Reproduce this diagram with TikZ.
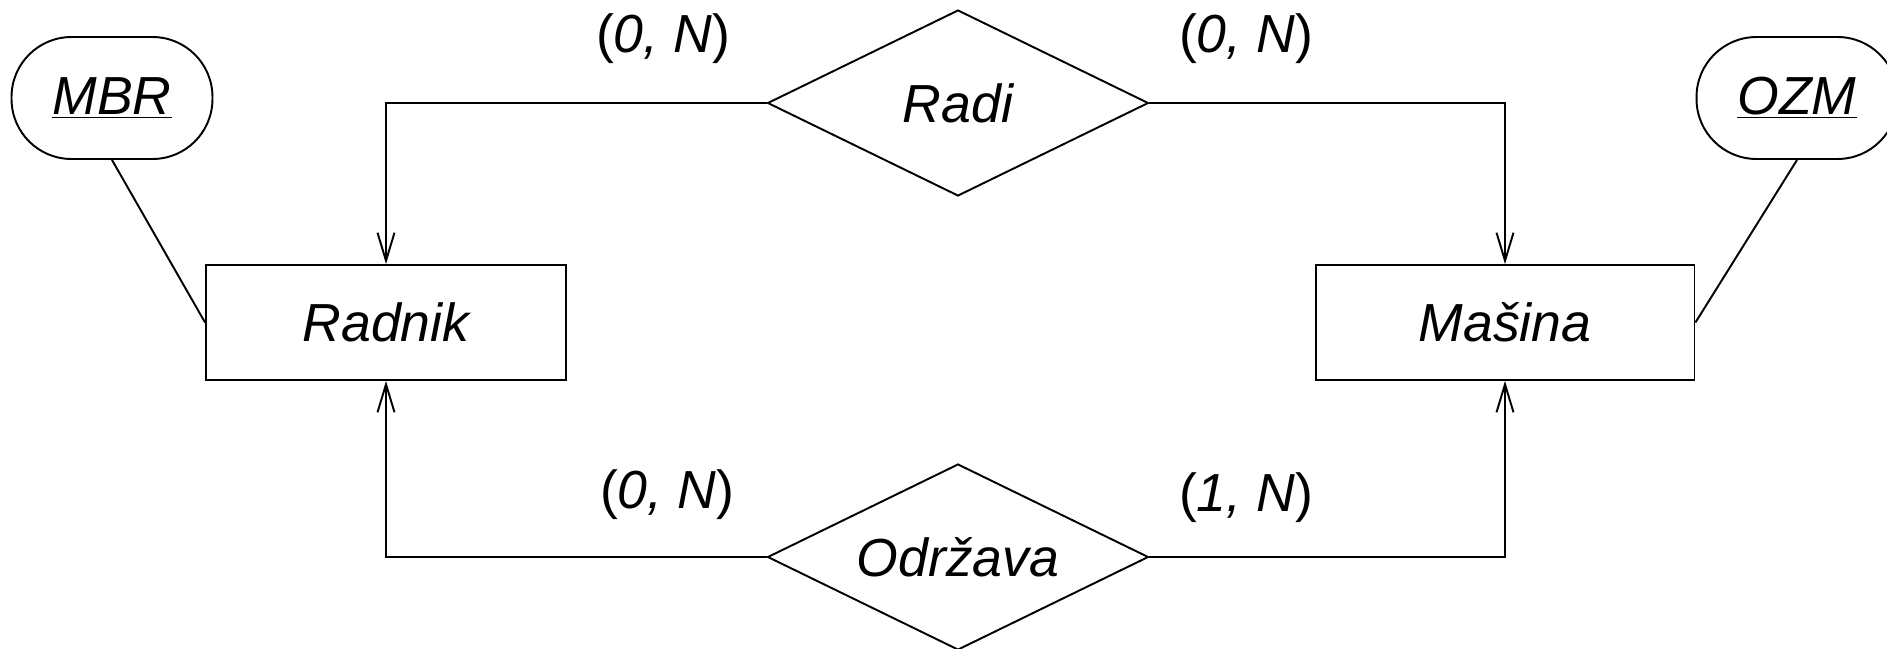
\documentclass[tikz,border=0pt]{standalone}
\usepackage{fontspec}
\setmainfont{Liberation Sans}
\usetikzlibrary{shapes.geometric,arrows.meta}
\tikzset{er font/.style={font=\fontsize{30.5}{36}\selectfont\itshape}}
\tikzset{entity box/.style={draw, rectangle, line width=1.1pt, minimum height=2.3cm, er font}}
\tikzset{attr box/.style={draw, rectangle, rounded corners=1.2cm, line width=1.1pt, minimum width=4.02cm, minimum height=2.44cm, er font}}
\tikzset{rel box/.style={draw, diamond, line width=1.1pt, inner sep=0pt, aspect=2.05, minimum width=7.62cm, minimum height=3.72cm, er font}}
\tikzset{card label/.style={font=\fontsize{30.5}{36}\selectfont}}
\tikzset{arr line/.style={line width=1.1pt, -{Straight Barb[length=5.6mm,width=3.4mm]}}}
\begin{document}
\begin{tikzpicture}[x=0.02cm, y=-0.02cm]
    \useasboundingbox (0,0) rectangle (1887,649);
    \node [entity box, minimum width=7.2cm] (radnik) at (386,322.5) {Radnik};
    \node [entity box, minimum width=7.58cm] (masina) at (1505,322.5) {Mašina};
    \node [attr box] (mbr) at (112,98) {\underline{MBR}};
    \node [attr box] (ozm) at (1797,98) {\underline{OZM}};
    \node [rel box] (radi) at (958,103) {Radi};
    \node [rel box] (odrzava) at (958,557) {Održava};
    \draw [arr line] (radi.west) -| (radnik.north);
    \draw [arr line] (radi.east) -| (masina.north);
    \draw [arr line] (odrzava.west) -| (radnik.south);
    \draw [arr line] (odrzava.east) -| (masina.south);
    \draw [line width=1.1pt] (mbr.south) -- (radnik.west);
    \draw [line width=1.1pt] (ozm.south) -- (masina.east);
    \node [card label] (c1) at (663,39) {(\textit{0, N})};
    \node [card label] (c2) at (1246,39) {(\textit{0, N})};
    \node [card label] (c3) at (667,495) {(\textit{0, N})};
    \node [card label] (c4) at (1246,498) {(\textit{1, N})};
\end{tikzpicture}
\end{document}
